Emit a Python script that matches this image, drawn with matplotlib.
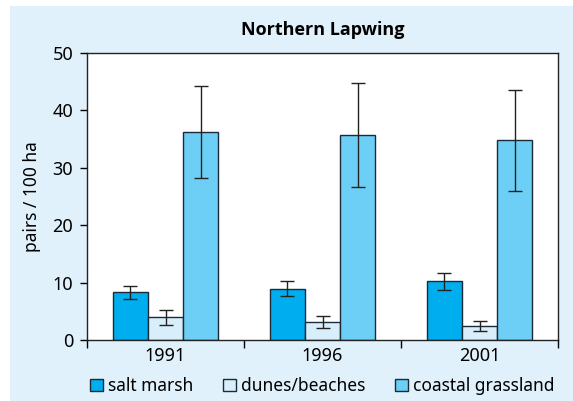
import matplotlib
matplotlib.use("Agg")
import matplotlib.pyplot as plt
import numpy as np
from matplotlib.patches import Rectangle

years = ["1991", "1996", "2001"]
series = ["salt marsh", "dunes/beaches", "coastal grassland"]
salt_marsh = [8.3, 8.9, 10.2]
salt_marsh_err = [1.1, 1.3, 1.5]
dunes = [3.95, 3.1, 2.4]
dunes_err = [1.3, 1.0, 0.85]
grassland = [36.2, 35.7, 34.8]
grassland_err = [8.0, 9.1, 8.8]
yticks = [0, 10, 20, 30, 40, 50]

colors = ["#00aeef", "#d8effb", "#6dcff6"]
bg = "#e0f1fb"
edge = "#1a2a36"

plt.rcParams['font.family'] = ['Noto Sans', 'DejaVu Sans']

W, H = 573, 401
fig = plt.figure(figsize=(W / 100, H / 100), dpi=100)
fig.patch.set_facecolor("white")
fig.patches.append(Rectangle((10 / W, 0), 1 - 10 / W, 1 - 6 / H,
                             transform=fig.transFigure, facecolor=bg,
                             edgecolor="none", zorder=-10))

ax = fig.add_axes([87 / W, 1 - 340 / H, (558 - 87) / W, (340 - 53) / H])
ax.set_facecolor("white")

x = np.arange(len(years))
w = 0.225
data = [(salt_marsh, salt_marsh_err), (dunes, dunes_err), (grassland, grassland_err)]
handles = []
for i, (vals, errs) in enumerate(data):
    pos = x + (i - 1) * w
    b = ax.bar(pos, vals, width=w, color=colors[i], edgecolor=edge,
               linewidth=1.0, label=series[i], zorder=2)
    ax.errorbar(pos, vals, yerr=errs, fmt="none", ecolor="#222222",
                elinewidth=1.0, capsize=5, capthick=1.0, zorder=3)
    handles.append(b)

ax.set_xlim(-0.5, 2.5)
ax.set_ylim(0, 50)
ax.set_yticks(yticks)
ax.set_yticklabels([str(t) for t in yticks], fontsize=13)
ax.set_xticks(x)
ax.set_xticklabels(years, fontsize=13)
ax.tick_params(axis="x", length=0, pad=5)
ax.tick_params(axis="y", length=5, direction="out", width=1, pad=5)
# category boundary ticks
ax.set_xticks([-0.5, 0.5, 1.5, 2.5], minor=True)
ax.tick_params(axis="x", which="minor", length=6, width=1, direction="out")
for s in ax.spines.values():
    s.set_color("#222222")
    s.set_linewidth(1.0)

ax.set_ylabel("pairs / 100 ha", fontsize=12.5, labelpad=8)
fig.text(323 / W, 1 - 30 / H, "Northern Lapwing", ha="center", va="center",
         fontsize=13, fontweight="bold", family=["Open Sans", "DejaVu Sans"])

leg = fig.legend(handles=handles, labels=series, loc="center",
                 bbox_to_anchor=(322 / W, 1 - 386 / H), ncol=3, frameon=False,
                 fontsize=12.5, handlelength=0.75, handleheight=0.75,
                 handletextpad=0.3, columnspacing=1.7, borderaxespad=0)

fig.savefig("out.png", dpi=100, facecolor=fig.get_facecolor())
